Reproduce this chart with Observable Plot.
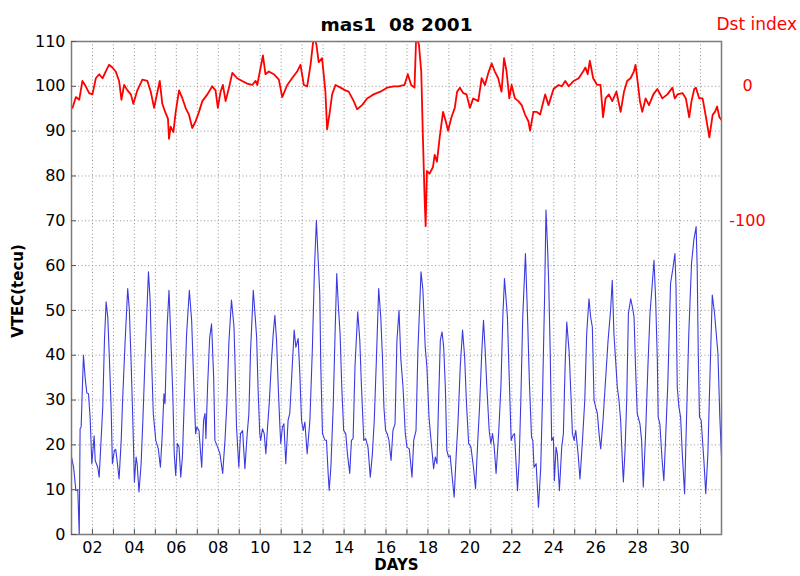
<!DOCTYPE html>
<html>
<head>
<meta charset="utf-8">
<script src="https://cdn.jsdelivr.net/npm/d3@7"></script>
<script src="https://cdn.jsdelivr.net/npm/@observablehq/plot@0.6"></script>
<style>
  body { margin: 0; background: #fff; }
  svg text { white-space: pre; }
</style>
</head>
<body>
<div id="chart"></div>
<script>
// ---- texts ----
const titleText = "mas1  08 2001";
const xLabel = "DAYS";
const yLabel = "VTEC(tecu)";
const rightLabel = "Dst index";

// ---- ticks ----
const dayTicks = d3.range(2, 32);            // tick marks / grid every day
const dayLabels = d3.range(2, 31, 2);        // labelled days 02..30
const vtecTicks = d3.range(0, 111, 10);      // 0..110
const dstTicks = [0, -100];                  // right-hand Dst labels (nT)

// ---- VTEC (tecu), [day of month, value] ----
const vtecSeries = [
  [1.00,17.3],[1.10,15.0],[1.21,9.8],[1.30,10.0],[1.37,0],[1.41,23.6],[1.46,24.0],[1.52,33.0],[1.57,40.0],
  [1.65,35.0],[1.73,31.6],[1.81,31.4],[1.89,26.0],[1.97,15.8],[2.08,22.0],[2.13,16.5],[2.25,15.0],[2.32,12.8],
  [2.41,21.0],[2.49,28.4],[2.57,43.0],[2.65,51.9],[2.73,48.5],[2.81,38.9],[2.89,28.4],[2.95,15.8],[3.05,18.8],
  [3.11,19.0],[3.19,15.8],[3.27,12.4],[3.37,21.0],[3.44,30.3],[3.56,43.3],[3.68,54.9],[3.76,50.0],[3.84,38.9],
  [3.92,26.2],[4.00,11.7],[4.08,17.3],[4.13,15.8],[4.22,9.5],[4.32,15.8],[4.41,26.2],[4.51,39.6],[4.67,58.6],
  [4.75,52.3],[4.83,37.4],[4.90,27.0],[5.02,21.0],[5.14,19.1],[5.24,15.0],[5.33,22.5],[5.41,31.4],[5.46,29.2],
  [5.56,46.3],[5.65,54.5],[5.73,44.8],[5.83,31.4],[5.90,18.0],[5.97,13.2],[6.05,20.3],[6.13,19.5],[6.21,12.8],
  [6.29,17.3],[6.38,30.0],[6.49,44.8],[6.62,54.5],[6.73,47.8],[6.83,33.7],[6.92,22.5],[6.98,24.0],[7.08,23.2],
  [7.16,18.0],[7.21,15.0],[7.30,25.5],[7.37,27.0],[7.41,21.4],[7.49,33.0],[7.59,44.0],[7.68,47.0],[7.78,35.0],
  [7.84,21.0],[7.97,19.5],[8.08,18.0],[8.21,13.6],[8.32,21.0],[8.41,29.2],[8.51,43.3],[8.63,52.3],[8.75,46.3],
  [8.80,38.0],[8.87,24.0],[8.98,15.0],[9.06,22.5],[9.16,23.2],[9.27,14.7],[9.38,22.5],[9.46,27.0],[9.54,41.0],
  [9.67,54.5],[9.75,49.3],[9.83,44.0],[9.90,32.2],[9.98,22.5],[10.02,21.0],[10.11,23.6],[10.19,22.5],[10.27,18.0],
  [10.35,24.0],[10.43,29.2],[10.54,38.9],[10.62,44.8],[10.70,48.9],[10.78,43.3],[10.86,32.9],[10.94,24.0],
  [10.98,20.3],[11.06,24.0],[11.13,24.7],[11.22,15.8],[11.33,25.5],[11.41,27.0],[11.51,35.9],[11.62,45.6],
  [11.70,41.8],[11.81,43.7],[11.89,35.9],[11.97,25.5],[12.05,23.2],[12.13,25.1],[12.24,18.0],[12.37,25.5],
  [12.49,41.8],[12.59,59.7],[12.68,70.1],[12.78,59.7],[12.84,53.8],[12.89,37.4],[12.97,22.5],[13.08,21.1],
  [13.16,21.0],[13.24,13.6],[13.29,9.8],[13.37,15.0],[13.48,28.4],[13.57,44.8],[13.65,58.2],[13.73,50.8],
  [13.81,44.8],[13.89,32.9],[13.98,23.2],[14.08,22.5],[14.16,18.0],[14.27,13.6],[14.35,21.0],[14.43,21.4],
  [14.52,37.4],[14.65,49.7],[14.75,43.3],[14.83,32.9],[14.94,21.0],[15.03,21.4],[15.14,19.5],[15.25,12.8],
  [15.35,18.0],[15.44,25.5],[15.54,38.9],[15.65,54.9],[15.75,48.5],[15.83,39.6],[15.90,28.4],[15.98,23.2],
  [16.06,22.5],[16.14,21.0],[16.24,16.5],[16.33,23.2],[16.43,24.7],[16.52,43.3],[16.62,50.0],[16.71,38.9],
  [16.81,32.9],[16.92,22.5],[17.00,19.5],[17.11,19.1],[17.24,12.8],[17.32,21.0],[17.43,23.2],[17.52,41.0],
  [17.67,58.6],[17.76,54.5],[17.87,41.8],[17.95,37.4],[18.05,26.2],[18.16,20.3],[18.27,14.7],[18.35,17.3],
  [18.43,15.8],[18.51,30.0],[18.59,43.3],[18.67,45.2],[18.75,41.8],[18.83,32.9],[18.90,18.8],[18.98,17.3],
  [19.06,17.6],[19.14,13.6],[19.25,8.3],[19.35,18.0],[19.43,24.7],[19.54,37.4],[19.65,45.6],[19.75,39.6],
  [19.83,30.0],[19.94,20.3],[20.05,19.5],[20.17,15.0],[20.27,10.2],[20.37,20.3],[20.46,28.4],[20.57,41.0],
  [20.65,47.8],[20.73,41.0],[20.81,32.9],[20.92,23.2],[21.00,20.3],[21.08,22.5],[21.16,19.5],[21.25,13.6],
  [21.37,22.5],[21.48,32.9],[21.57,48.5],[21.65,57.1],[21.73,52.3],[21.79,48.5],[21.89,32.9],[21.97,21.0],
  [22.05,22.1],[22.13,22.5],[22.27,9.8],[22.35,16.5],[22.43,30.0],[22.52,48.5],[22.65,62.7],[22.75,48.5],
  [22.84,33.7],[22.94,21.7],[23.00,21.0],[23.06,15.0],[23.16,15.8],[23.27,6.1],[23.38,15.0],[23.46,30.0],
  [23.56,52.3],[23.63,72.4],[23.71,63.4],[23.76,56.0],[23.83,41.0],[23.90,21.0],[23.98,21.7],[24.03,12.0],
  [24.11,19.5],[24.17,18.0],[24.27,9.8],[24.38,19.5],[24.46,22.5],[24.54,37.4],[24.62,47.4],[24.73,41.0],
  [24.81,32.2],[24.89,22.5],[24.97,21.0],[25.05,23.2],[25.16,18.0],[25.25,12.4],[25.37,21.0],[25.48,30.0],
  [25.57,44.8],[25.68,52.6],[25.76,48.5],[25.84,46.3],[25.92,30.0],[26.00,28.4],[26.08,27.0],[26.16,22.5],
  [26.24,19.1],[26.35,25.5],[26.44,32.2],[26.59,43.3],[26.71,50.0],[26.79,56.7],[26.87,44.8],[26.95,38.9],
  [27.03,32.9],[27.11,30.0],[27.19,25.5],[27.27,16.5],[27.32,11.7],[27.40,18.8],[27.48,30.0],[27.56,49.3],
  [27.67,52.6],[27.75,50.8],[27.83,48.5],[27.90,37.4],[27.98,27.0],[28.11,24.7],[28.19,21.0],[28.27,10.6],
  [28.38,22.5],[28.49,37.4],[28.59,49.3],[28.70,56.0],[28.78,61.2],[28.86,52.3],[28.94,38.9],[28.98,26.2],
  [29.06,24.7],[29.17,16.5],[29.25,12.0],[29.33,21.0],[29.44,33.7],[29.57,56.0],[29.67,59.0],[29.78,62.7],
  [29.83,55.2],[29.89,32.9],[29.97,28.4],[30.05,26.2],[30.13,18.0],[30.24,9.1],[30.33,25.5],[30.44,44.8],
  [30.57,60.5],[30.68,65.7],[30.79,68.7],[30.84,59.7],[30.89,41.0],[30.95,26.2],[31.03,25.5],[31.16,16.5],
  [31.25,9.1],[31.35,18.0],[31.44,33.7],[31.56,53.4],[31.67,49.3],[31.75,44.8],[31.83,40.4],[31.92,26.2],
  [32.00,17.3]
];

// ---- Dst index (nT), [day of month, value] ----
const dstSeries = [
  [1.00,-16],[1.05,-16],[1.21,-8],[1.37,-10],[1.52,4],[1.68,0],[1.84,-5],[2.00,-6],[2.16,6],[2.32,9],[2.48,6],
  [2.63,11],[2.79,16],[2.95,14],[3.11,11],[3.27,4],[3.38,-10],[3.51,1],[3.67,-3],[3.83,-6],[3.95,-13],
  [4.14,-3],[4.38,5],[4.62,4],[4.78,-4],[4.94,-16],[5.10,-4],[5.21,4],[5.33,-13],[5.49,-20],[5.60,-24],
  [5.65,-39],[5.73,-30],[5.86,-34],[5.97,-19],[6.13,-3],[6.29,-9],[6.44,-16],[6.60,-21],[6.76,-31],[6.92,-26],
  [7.08,-19],[7.24,-11],[7.48,-6],[7.71,0],[7.87,-3],[7.98,-16],[8.11,-4],[8.22,1],[8.35,-11],[8.51,-1],
  [8.67,10],[8.90,6],[9.14,4],[9.38,2],[9.62,1],[9.78,4],[9.86,1],[10.02,14],[10.13,23],[10.25,9],[10.41,11],
  [10.65,9],[10.89,5],[11.05,-8],[11.29,1],[11.52,6],[11.76,11],[11.92,16],[12.08,1],[12.24,0],[12.40,16],
  [12.56,38],[12.68,31],[12.79,18],[12.95,21],[13.11,-4],[13.19,-32],[13.32,-19],[13.43,-6],[13.59,1],
  [13.83,-1],[14.06,-3],[14.22,-4],[14.46,-11],[14.62,-17],[14.86,-14],[15.10,-9],[15.41,-6],[15.73,-4],
  [16.05,-1],[16.37,0],[16.60,0],[16.88,1],[17.04,9],[17.20,1],[17.36,-1],[17.44,38],[17.57,31],[17.68,11],
  [17.76,-38],[17.84,-83],[17.89,-104],[17.95,-63],[18.08,-65],[18.24,-60],[18.32,-51],[18.43,-56],[18.56,-38],
  [18.72,-19],[18.85,-26],[18.96,-33],[19.12,-23],[19.28,-16],[19.39,-4],[19.52,-1],[19.68,-5],[19.84,-6],
  [20.00,-16],[20.16,-9],[20.40,-11],[20.56,6],[20.72,1],[20.88,10],[21.04,17],[21.19,11],[21.35,6],[21.51,-4],
  [21.63,21],[21.75,11],[21.88,-9],[21.99,1],[22.15,-9],[22.31,-11],[22.47,-14],[22.63,-21],[22.79,-26],
  [22.87,-33],[23.03,-19],[23.19,-19],[23.35,-21],[23.59,-6],[23.75,-14],[23.99,-2],[24.23,1],[24.39,0],
  [24.55,4],[24.71,0],[24.95,4],[25.19,6],[25.40,11],[25.51,14],[25.62,9],[25.72,19],[25.88,6],[26.07,1],
  [26.23,1],[26.35,-23],[26.47,-9],[26.63,-6],[26.79,-11],[26.99,-4],[27.19,-19],[27.35,-4],[27.50,4],[27.66,6],
  [27.82,11],[27.90,16],[27.98,6],[28.11,-11],[28.22,-19],[28.38,-9],[28.54,-14],[28.75,-6],[28.94,-2],
  [29.18,-9],[29.42,-6],[29.66,-1],[29.77,-9],[29.90,-6],[30.14,-5],[30.30,-9],[30.46,-23],[30.57,-11],
  [30.70,-2],[30.78,-1],[30.94,-9],[31.10,-9],[31.26,-23],[31.42,-38],[31.58,-21],[31.69,-19],[31.79,-15],
  [31.90,-23],[32.00,-25]
];

// Dst is drawn on the VTEC axis: 0 nT -> 100, -100 nT -> 70
const dstToY = d => 100 + 0.3 * d;
const yToDst = v => Math.round((v - 100) / 0.3);

const plot = Plot.plot({
  width: 800,
  height: 576,
  marginLeft: 71,
  marginRight: 79,
  marginTop: 41,
  marginBottom: 42,
  style: {fontFamily: "'DejaVu Sans', sans-serif", fontSize: "16px", background: "#fff", color: "#000"},
  x: {domain: [1, 32]},
  y: {domain: [0, 110]},
  marks: [
    Plot.gridX(dayTicks, {stroke: "#8a8a8a", strokeOpacity: 0.9, strokeDasharray: "1,2.5"}),
    Plot.gridY(vtecTicks, {stroke: "#8a8a8a", strokeOpacity: 0.9, strokeDasharray: "1,2.5"}),
    Plot.line(vtecSeries, {x: d => d[0], y: d => d[1], stroke: "#3a3ae0", strokeWidth: 1.1, clip: true}),
    Plot.line(dstSeries, {x: d => d[0], y: d => dstToY(d[1]), stroke: "#ff0000", strokeWidth: 1.8, clip: true}),
    Plot.frame({stroke: "#7a7a7a", strokeWidth: 1.5}),
    Plot.tickX(dayTicks, {x: d => d, insetTop: 488, stroke: "#555"}),
    Plot.tickY(vtecTicks, {y: d => d, insetRight: 645, stroke: "#555"}),
    Plot.axisX(dayLabels, {tickSize: 0, tickPadding: 7, tickFormat: d => String(d).padStart(2, "0"), label: null, fontSize: 16}),
    Plot.axisY(vtecTicks, {tickSize: 0, tickPadding: 6, label: null, fontSize: 16}),
    Plot.axisY(dstTicks.map(dstToY), {anchor: "right", tickSize: 0, tickPadding: 26, textAnchor: "middle",
      tickFormat: yToDst, color: "#ff0000", label: null, fontSize: 16}),
    Plot.text([titleText], {frameAnchor: "top", dy: -24, fontWeight: "bold", fontSize: 18.5}),
    Plot.text([rightLabel], {frameAnchor: "top-right", dx: -5, dy: -24, textAnchor: "start", fill: "#ff0000", fontSize: 17}),
    Plot.text([xLabel], {frameAnchor: "bottom", dy: 35, fontWeight: "bold", fontSize: 15}),
    Plot.text([yLabel], {frameAnchor: "left", dx: -53, dy: 3, rotate: -90, textAnchor: "middle", fontWeight: "bold", fontSize: 15})
  ]
});
document.getElementById("chart").appendChild(plot);
</script>
</body>
</html>
